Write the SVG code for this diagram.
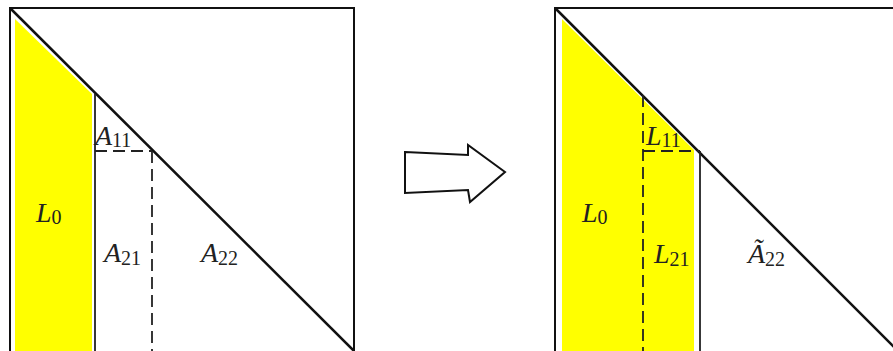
<svg xmlns="http://www.w3.org/2000/svg" width="893" height="351" viewBox="0 0 893 351">
<style>
.frame{fill:none;stroke:#111;stroke-width:2}
.diag{stroke:#111;stroke-width:2.5;fill:none}
.solid{stroke:#222;stroke-width:1.8;fill:none}
.dash{stroke:#222;stroke-width:1.8;fill:none;stroke-dasharray:12 6}
.fill{fill:#ffff00}
.lbl{font-family:"Liberation Serif",serif;font-style:italic;font-size:28px;fill:#222}
.sub{font-family:"Liberation Serif",serif;font-style:normal;font-size:20px;fill:#222}
</style>
<rect width="893" height="351" fill="#fff"/>
<g id="left-panel">
  <polygon class="fill" points="15,19 92,94 92,351 15,351"/>
  <rect class="frame" x="10" y="8" width="344" height="350"/>
  <line class="diag" x1="10" y1="8" x2="354" y2="351"/>
  <line class="solid" x1="95" y1="94" x2="95" y2="351"/>
  <line class="dash" x1="95" y1="151" x2="152" y2="151"/>
  <line class="dash" x1="152" y1="151" x2="152" y2="351"/>
  <text class="lbl" x="36" y="222">L<tspan class="sub" dy="2">0</tspan></text>
  <text class="lbl" x="95" y="145">A<tspan class="sub" dy="2">11</tspan></text>
  <text class="lbl" x="104" y="262">A<tspan class="sub" dy="3">21</tspan></text>
  <text class="lbl" x="201" y="262">A<tspan class="sub" dy="3">22</tspan></text>
</g>
<g id="arrow">
  <polygon points="405,152 468,155 468,145 505,172 470,202 468,190 405,193" fill="#fff" stroke="#111" stroke-width="2" stroke-linejoin="miter"/>
</g>
<g id="right-panel">
  <polygon class="fill" points="562,19 694,150 694,351 562,351"/>
  <rect class="frame" x="555" y="8" width="350" height="350"/>
  <line class="diag" x1="555" y1="8" x2="898" y2="351"/>
  <line class="dash" x1="643" y1="95" x2="643" y2="351"/>
  <line class="dash" x1="643" y1="151" x2="700" y2="151"/>
  <line class="solid" x1="700" y1="151" x2="700" y2="351"/>
  <text class="lbl" x="582" y="222">L<tspan class="sub" dy="2">0</tspan></text>
  <text class="lbl" x="646" y="145">L<tspan class="sub" dy="2">11</tspan></text>
  <text class="lbl" x="654" y="263">L<tspan class="sub" dy="3">21</tspan></text>
  <text class="lbl" x="748" y="263">Ã<tspan class="sub" dy="3">22</tspan></text>
</g>
</svg>
